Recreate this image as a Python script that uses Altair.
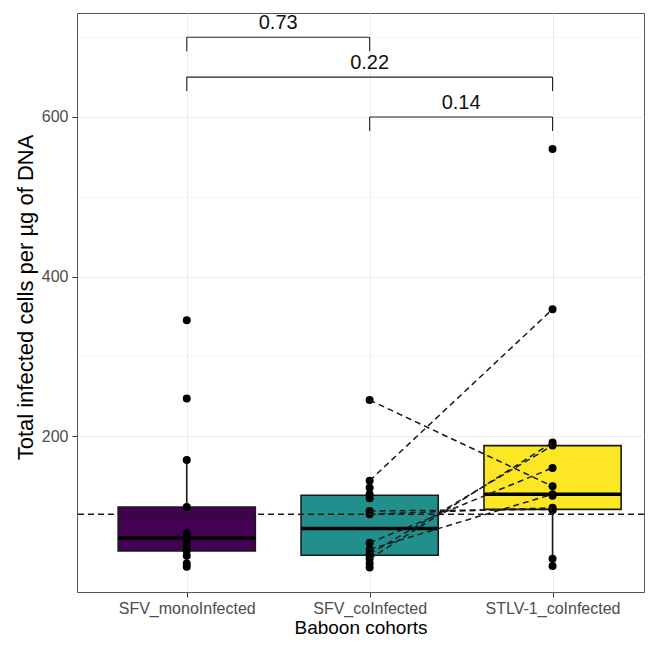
import json
import altair as alt
import pandas as pd

# ---------------- data ----------------
groups = ["SFV_monoInfected", "SFV_coInfected", "STLV-1_coInfected"]
group_colors = ["#440154", "#21908C", "#FDE725"]

mono_values = [36, 40, 50, 56, 62, 66, 72, 75, 78, 111, 170, 247, 345]
co_values = [35, 40, 46, 50, 52, 58, 66, 102, 106, 122, 127, 135, 144, 245]
stlv_values = [37, 46, 107, 108, 110, 125, 127, 137, 160, 188, 192, 359, 560]

# paired individuals (SFV_coInfected -> STLV-1_coInfected)
pair_co = [245, 144, 106, 102, 46, 52, 66, 58]
pair_stlv = [137, 359, 108, 110, 192, 188, 160, 127]

hline_value = 102

bracket_from = [1, 1, 2]
bracket_to = [2, 3, 3]
bracket_y = [700, 650, 600]
bracket_labels = ["0.73", "0.22", "0.14"]

y_ticks = [100, 200, 300, 400, 500, 600, 700]

# ---------------- tables ----------------
all_values = [mono_values, co_values, stlv_values]
pts = pd.DataFrame({
    "gx": [i + 1 for i, vals in enumerate(all_values) for _ in vals],
    "group": [groups[i] for i, vals in enumerate(all_values) for _ in vals],
    "value": [v for vals in all_values for v in vals],
})

n_pairs = len(pair_co)
pairs = pd.DataFrame({
    "pair": list(range(n_pairs)) * 2,
    "gx": [2] * n_pairs + [3] * n_pairs,
    "value": pair_co + pair_stlv,
})

brackets = pd.DataFrame({
    "x1": bracket_from, "x2": bracket_to, "y": bracket_y, "label": bracket_labels,
})

FONT = "Liberation Sans"

xscale = alt.Scale(domain=[0.4, 3.5], nice=False, zero=False)
yscale = alt.Scale(domain=[4.4, 730.4], nice=False, zero=False)

label_expr = json.dumps(groups) + "[datum.value - 1]"
xaxis = alt.Axis(
    values=[1, 2, 3], labelExpr=label_expr, grid=True, gridColor="#EBEBEB",
    gridWidth=1, domain=False, tickColor="#333333", tickSize=5,
    labelColor="#4D4D4D", labelFontSize=16, labelPadding=3, labelFont=FONT,
    title="Baboon cohorts", titleFontSize=19, titleFont=FONT,
    titleFontWeight="normal", titleColor="black", titlePadding=2,
)
yaxis = alt.Axis(
    values=y_ticks, grid=True, gridColor="#EBEBEB",
    gridWidth={"expr": "datum.value % 200 == 0 ? 1 : 0.5"},
    tickOpacity={"expr": "datum.value % 200 == 0 ? 1 : 0"},
    labelExpr="datum.value % 200 == 0 ? datum.label : ''",
    domain=False, tickColor="#333333", tickSize=5,
    labelColor="#4D4D4D", labelFontSize=16, labelPadding=4, labelFont=FONT,
    title="Total infected cells per µg of DNA", titleFontSize=22, titleFont=FONT,
    titleFontWeight="normal", titleColor="black", titlePadding=4, titleY=284,
)


def X(field):
    return alt.X(field, type="quantitative", scale=xscale, axis=xaxis, title="Baboon cohorts")


def Y(field):
    return alt.Y(field, type="quantitative", scale=yscale, axis=yaxis,
                 title="Total infected cells per µg of DNA")


color = alt.Color("group:N", scale=alt.Scale(domain=groups, range=group_colors), legend=None)

stats = (
    alt.Chart(pts)
    .transform_joinaggregate(q1="q1(value)", q3="q3(value)", med="median(value)", groupby=["gx", "group"])
    .transform_calculate(lo="datum.q1 - 1.5 * (datum.q3 - datum.q1)",
                         hi="datum.q3 + 1.5 * (datum.q3 - datum.q1)")
    .transform_filter("datum.value >= datum.lo && datum.value <= datum.hi")
    .transform_aggregate(wmin="min(value)", wmax="max(value)", q1="min(q1)", q3="min(q3)",
                         med="min(med)", groupby=["gx", "group"])
    .transform_calculate(xl="datum.gx - 0.375", xr="datum.gx + 0.375")
)

whisker = stats.mark_rule(color="#1a1a1a", strokeWidth=1.6).encode(
    x=X("gx"), y=Y("wmin"), y2="wmax")
box = stats.mark_rect(stroke="#1a1a1a", strokeWidth=1.6).encode(
    x=X("xl"), x2="xr", y=Y("q1"), y2="q3", fill=color)
median = stats.mark_rule(color="#000000", strokeWidth=3.5).encode(
    x=X("xl"), x2="xr", y=Y("med"))

points = alt.Chart(pts).mark_circle(size=64, color="black", opacity=1).encode(
    x=X("gx"), y=Y("value"))

pair_lines = alt.Chart(pairs).mark_line(strokeDash=[6, 4], color="#1a1a1a", strokeWidth=1.5).encode(
    x=X("gx"), y=Y("value"), detail="pair:N")

hline = alt.Chart(pd.DataFrame({"v": [hline_value]})).mark_rule(
    strokeDash=[6, 4], color="#1a1a1a", strokeWidth=1.5).encode(y=Y("v"))

bbase = alt.Chart(brackets).transform_calculate(
    xm="(datum.x1 + datum.x2) / 2", ytip="datum.y - 17.5")
b_h = bbase.mark_rule(color="#222222", strokeWidth=1.1).encode(x=X("x1"), x2="x2", y=Y("y"))
b_l = bbase.mark_rule(color="#222222", strokeWidth=1.1).encode(x=X("x1"), y=Y("y"), y2="ytip")
b_r = bbase.mark_rule(color="#222222", strokeWidth=1.1).encode(x=X("x2"), y=Y("y"), y2="ytip")
b_t = bbase.mark_text(fontSize=20, font=FONT, baseline="bottom", dy=-4, color="#111111").encode(
    x=X("xm"), y=Y("y"), text="label:N")

chart = (
    alt.layer(whisker, box, median, points, pair_lines, hline, b_h, b_l, b_r, b_t)
    .properties(
        width=567, height=579,
        autosize=alt.AutoSizeParams(type="none"),
        padding={"left": 69, "top": 5, "right": 1, "bottom": 46},
        background="white",
    )
    .configure_view(stroke="#555555", strokeWidth=1)
)

chart.save("out.html", embed_options={"renderer": "svg", "actions": False})
